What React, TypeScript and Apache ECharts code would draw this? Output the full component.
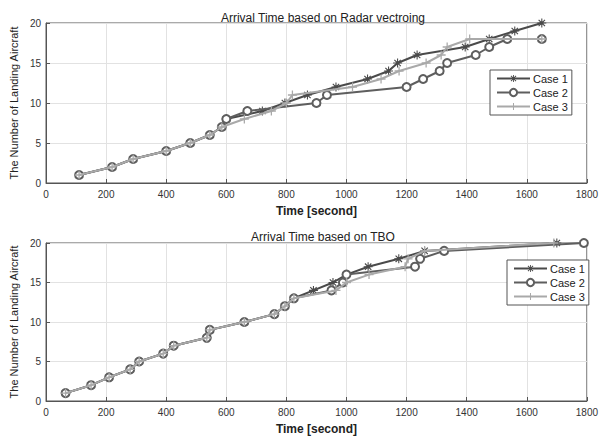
import React, { useEffect, useRef } from "react";
import * as echarts from "echarts";

// Radar vectoring (top chart)
const radarCase1X = [110, 220, 290, 400, 480, 545, 585, 600, 720, 795, 870, 965, 1070, 1140, 1170, 1235, 1395, 1475, 1560, 1650];
const radarCase1Y = [1, 2, 3, 4, 5, 6, 7, 8, 9, 10, 11, 12, 13, 14, 15, 16, 17, 18, 19, 20];
const radarCase2X = [110, 220, 290, 400, 480, 545, 585, 600, 670, 900, 935, 1200, 1255, 1310, 1335, 1430, 1475, 1535, 1650];
const radarCase2Y = [1, 2, 3, 4, 5, 6, 7, 8, 9, 10, 11, 12, 13, 14, 15, 16, 17, 18, 18];
const radarCase3X = [110, 220, 290, 400, 480, 545, 585, 660, 750, 800, 820, 1020, 1115, 1175, 1265, 1315, 1335, 1410, 1650];
const radarCase3Y = [1, 2, 3, 4, 5, 6, 7, 8, 9, 10, 11, 12, 13, 14, 15, 16, 17, 18, 18];

// TBO (bottom chart)
const tboSharedX = [65, 150, 210, 280, 310, 390, 425, 535, 545, 660, 760, 795, 825];
const tboSharedY = [1, 2, 3, 4, 5, 6, 7, 8, 9, 10, 11, 12, 13];
const tboCase1X = [890, 955, 1000, 1072, 1174, 1260, 1700];
const tboCase2X = [950, 988, 1000, 1228, 1245, 1325, 1790];
const tboCase3X = [965, 1000, 1075, 1195, 1205, 1260, 1690];
const tboTailY = [14, 15, 16, 17, 18, 19, 20];

const caseNames = ["Case 1", "Case 2", "Case 3"];
const titles = ["Arrival Time based on Radar vectroing", "Arrival Time based on TBO"];
const xAxisName = "Time [second]";
const yAxisName = "The Number of Landing Aircraft";

const pair = (xs: number[], ys: number[]) => xs.map((x, i) => [x, ys[i]]);

const STAR =
  "path://M4.4,0 L5.6,0 L5.6,10 L4.4,10 Z M0,4.4 L10,4.4 L10,5.6 L0,5.6 Z M1,1.9 L1.9,1 L9,8.1 L8.1,9 Z M8.1,1 L9,1.9 L1.9,9 L1,8.1 Z M3,3 L7,3 L7,7 L3,7 Z";
const PLUS = "path://M4.3,0 L5.7,0 L5.7,4.3 L10,4.3 L10,5.7 L5.7,5.7 L5.7,10 L4.3,10 L4.3,5.7 L0,5.7 L0,4.3 L4.3,4.3 Z";

const colors = ["#4a4a4a", "#5e5e5e", "#a9a9a9"];

export default function App() {
  const ref = useRef<HTMLDivElement>(null);
  useEffect(() => {
    if (!ref.current) return;
    const chart = echarts.init(ref.current, null, { renderer: "svg" });
    const font = "Liberation Sans, Arial, sans-serif";
    const grids = [
      { left: 43, right: 7, top: 23, height: 160 },
      { left: 43, right: 7, top: 243, height: 160 },
    ];
    const mkX = (gi: number) => ({
      type: "value",
      gridIndex: gi,
      min: 0,
      max: 1800,
      interval: 200,
      name: xAxisName,
      nameLocation: "middle",
      nameGap: 22,
      nameTextStyle: { fontSize: 12, color: "#222", fontFamily: font, fontWeight: 600 },
      axisLine: { show: true, lineStyle: { color: "#555", width: 1 } },
      axisTick: { show: true, inside: true, length: 4, lineStyle: { color: "#555" } },
      axisLabel: { fontSize: 10, color: "#333", fontFamily: font, margin: 6, formatter: (v: number) => String(v) },
      splitLine: { show: true, lineStyle: { color: "#e2e2e2", width: 1 } },
    });
    const mkY = (gi: number) => ({
      type: "value",
      gridIndex: gi,
      min: 0,
      max: 20,
      interval: 5,
      name: yAxisName,
      nameLocation: "middle",
      nameGap: 22,
      nameTextStyle: { fontSize: 11, color: "#222", fontFamily: font },
      axisLine: { show: true, lineStyle: { color: "#555", width: 1 } },
      axisTick: { show: true, inside: true, length: 4, lineStyle: { color: "#555" } },
      axisLabel: { fontSize: 10, color: "#333", fontFamily: font, margin: 5, formatter: (v: number) => String(v) },
      splitLine: { show: true, lineStyle: { color: "#e2e2e2", width: 1 } },
    });
    const symbols = [STAR, "emptyCircle", PLUS];
    const sizes = [9, 8, 9];
    const mkSeries = (name: string, idx: number, gi: number, data: number[][]) => ({
      type: "line",
      name,
      xAxisIndex: gi,
      yAxisIndex: gi,
      data,
      symbol: symbols[idx],
      symbolSize: sizes[idx],
      showAllSymbol: true,
      lineStyle: { color: colors[idx], width: 2 },
      itemStyle: { color: colors[idx], borderColor: colors[idx], borderWidth: idx === 1 ? 1.5 : 0 },
      z: 2 + idx,
    });
    const series = [
      mkSeries(caseNames[0], 0, 0, pair(radarCase1X, radarCase1Y)),
      mkSeries(caseNames[1], 1, 0, pair(radarCase2X, radarCase2Y)),
      mkSeries(caseNames[2], 2, 0, pair(radarCase3X, radarCase3Y)),
      mkSeries(caseNames[0], 0, 1, pair(tboSharedX.concat(tboCase1X), tboSharedY.concat(tboTailY))),
      mkSeries(caseNames[1], 1, 1, pair(tboSharedX.concat(tboCase2X), tboSharedY.concat(tboTailY))),
      mkSeries(caseNames[2], 2, 1, pair(tboSharedX.concat(tboCase3X), tboSharedY.concat(tboTailY))),
    ];
    const mkLegend = (left: number, top: number) => ({
      left,
      top,
      orient: "vertical",
      data: caseNames,
      selectedMode: false,
      backgroundColor: "#fff",
      borderColor: "#555",
      borderWidth: 1,
      padding: [3, 4, 3, 6],
      itemWidth: 33,
      itemHeight: 9,
      itemGap: 3,
      textStyle: { fontSize: 11, color: "#222", fontFamily: font, padding: [0, 0, 0, -2] },
    });
    chart.setOption({
      animation: false,
      backgroundColor: "#fff",
      title: [
        {
          text: titles[0],
          left: 318,
          top: 7,
          textAlign: "center",
          textStyle: { fontSize: 12, fontWeight: "normal", color: "#222", fontFamily: font },
        },
        {
          text: titles[1],
          left: 318,
          top: 226,
          textAlign: "center",
          textStyle: { fontSize: 12, fontWeight: "normal", color: "#222", fontFamily: font },
        },
      ],
      legend: [mkLegend(490, 70), mkLegend(507, 260)],
      grid: grids.map((g) => ({ ...g, show: true, borderColor: "#555", borderWidth: 1, backgroundColor: "#fff" })),
      xAxis: [mkX(0), mkX(1)],
      yAxis: [mkY(0), mkY(1)],
      series,
    });
    return () => chart.dispose();
  }, []);
  return (
    <div
      ref={ref}
      style={{ position: "fixed", left: 0, top: 0, width: 601, height: 436, background: "#fff" }}
    />
  );
}
